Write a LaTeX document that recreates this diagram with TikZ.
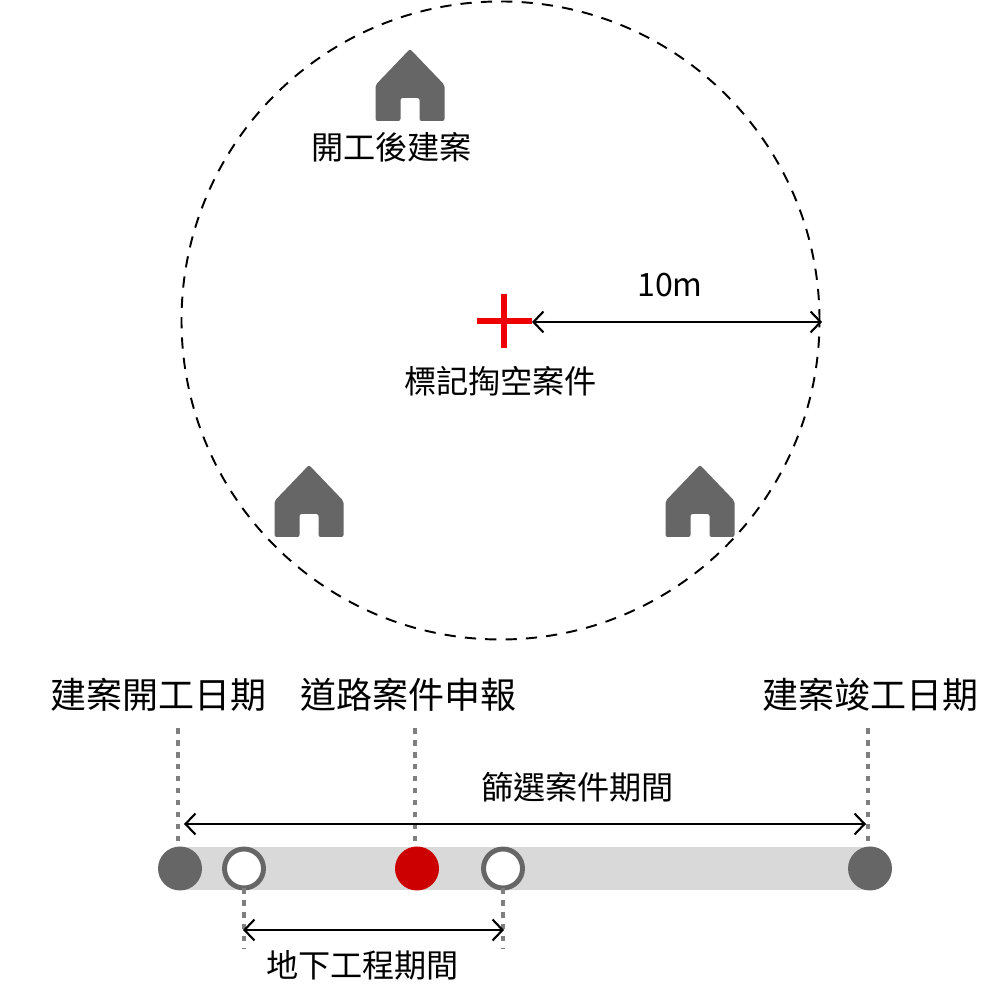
\documentclass[tikz,border=0pt]{standalone}
\usepackage{fontspec}
\setmainfont{Noto Sans CJK TC}
\usetikzlibrary{arrows.meta}
\definecolor{housegray}{HTML}{666666}
\definecolor{bargray}{HTML}{D9D9D9}
\definecolor{guidegray}{HTML}{7F7F7F}
\definecolor{markred}{HTML}{EE0000}
\definecolor{dotred}{HTML}{CC0000}
\begin{document}
\begin{tikzpicture}[
every node/.style={anchor=center,inner sep=0pt,outer sep=0pt},
small/.style={font=\fontsize{9.15pt}{11pt}\selectfont},
large/.style={font=\fontsize{10.25pt}{12pt}\selectfont},
span/.style={{Straight Barb[length=1mm,width=2.1mm]}-{Straight Barb[length=1mm,width=2.1mm]},line width=0.6pt,black},
guide/.style={guidegray,line width=0.9pt,dash pattern=on 1.6pt off 1.8pt},
solid dot/.style={circle,minimum size=0.44cm},
open dot/.style={circle,draw=housegray,fill=white,line width=1.4pt,minimum size=0.39cm},
cross/.style={markred,line width=1.7pt},
house/.pic={
  \fill[housegray,rounded corners=0.6pt](-0.345,0)--(-0.345,0.36)--(0,0.72)--(0.345,0.36)--(0.345,0)--(0.095,0)--(0.095,0.23)--(-0.095,0.23)--(-0.095,0)--cycle;
},
]
\useasboundingbox(0,0)rectangle(10,10);
%\draw[help lines](0,0)grid(10,10);

%Radius
\node[circle,draw,line width=0.55pt,dash pattern=on 3.2pt off 2.6pt,minimum size=6.38cm](range)at(5.005,6.795){};
\pic(north house)at(4.10,8.79){house};
\pic(west house)at(3.09,4.63){house};
\pic(east house)at(7.00,4.63){house};
\node[small](built)at(3.915,8.53){開工後建案};

\coordinate(crossw)at(4.77,6.79);
\coordinate(crosse)at(5.32,6.79);
\coordinate(crossn)at(5.035,7.06);
\coordinate(crosss)at(5.035,6.52);
\draw[cross](crossw)--(crosse);
\draw[cross](crossn)--(crosss);
\coordinate(rim)at(8.22,6.78);
\draw[span]([yshift=-0.01cm]crosse)--(rim);
\node[small](radius)at(6.70,7.15){10m};
\node[small](marked)at(5.005,6.19){標記掏空案件};

%Timeline
\fill[bargray](1.80,1.10)rectangle(8.70,1.53);
\node[solid dot,fill=housegray](start)at(1.80,1.315){};
\node[open dot](digin)at(2.44,1.315){};
\node[solid dot,fill=dotred](report)at(4.17,1.315){};
\node[open dot](digout)at(5.03,1.315){};
\node[solid dot,fill=housegray](finish)at(8.70,1.315){};

\node[large](startlabel)at(1.585,3.05){建案開工日期};
\node[large](reportlabel)at(4.085,3.05){道路案件申報};
\node[large](finishlabel)at(8.705,3.05){建案竣工日期};

\coordinate(starttop)at(1.78,2.72);
\coordinate(reporttop)at(4.15,2.72);
\coordinate(finishtop)at(8.68,2.72);
\coordinate(startfoot)at(1.78,1.53);
\coordinate(reportfoot)at(4.15,1.53);
\coordinate(finishfoot)at(8.68,1.53);
\coordinate(inlow)at(2.44,0.52);
\coordinate(outlow)at(5.03,0.52);
\draw[guide](starttop)--(startfoot);
\draw[guide](reporttop)--(reportfoot);
\draw[guide](finishtop)--(finishfoot);
\draw[guide](digin.south)--(inlow);
\draw[guide](digout.south)--(outlow);

\coordinate(spanw)at(1.84,1.76);
\coordinate(spane)at(8.66,1.76);
\coordinate(workw)at(2.43,0.70);
\coordinate(worke)at(5.04,0.70);
\draw[span](spanw)--(spane);
\draw[span](workw)--(worke);
\node[small](filter)at(5.775,2.13){篩選案件期間};
\node[small](works)at(3.625,0.35){地下工程期間};

\end{tikzpicture}
\end{document}
